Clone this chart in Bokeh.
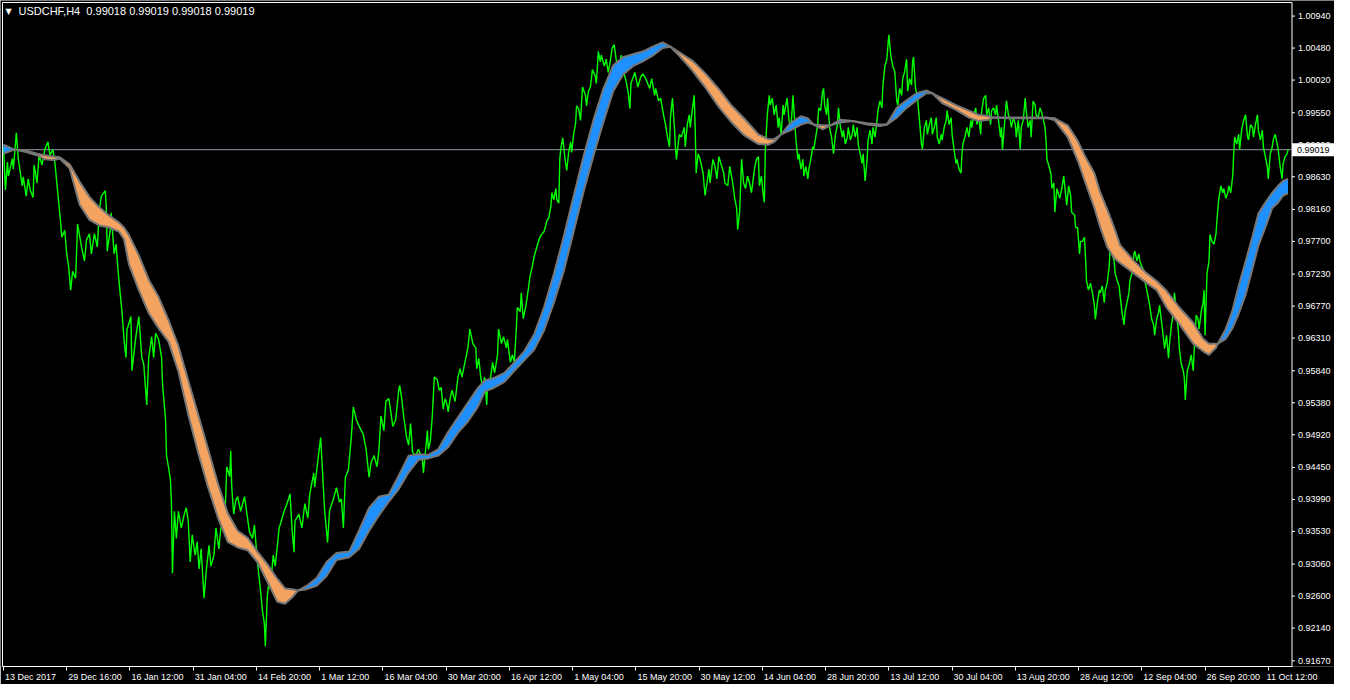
import numpy as np
from bokeh.plotting import figure
from bokeh.models import Range1d, FixedTicker, Label
from bokeh.embed import file_html
from bokeh.resources import INLINE

# ---------------- data ----------------
symbol = "USDCHF,H4"
ohlc_last = ["0.99018", "0.99019", "0.99018", "0.99019"]
last_price = 0.99019

bars_per_label = 64
date_labels = ["13 Dec 2017", "29 Dec 16:00", "16 Jan 12:00", "31 Jan 04:00", "14 Feb 20:00",
               "1 Mar 12:00", "16 Mar 04:00", "30 Mar 20:00", "16 Apr 12:00", "1 May 04:00",
               "15 May 20:00", "30 May 12:00", "14 Jun 04:00", "28 Jun 20:00", "13 Jul 12:00",
               "30 Jul 04:00", "13 Aug 20:00", "28 Aug 12:00", "12 Sep 04:00", "26 Sep 20:00",
               "11 Oct 12:00"]

price_ticks = [1.00940, 1.00480, 1.00020, 0.99550, 0.99090, 0.98630, 0.98160, 0.97700,
               0.97230, 0.96770, 0.96310, 0.95840, 0.95380, 0.94920, 0.94450, 0.93990,
               0.93530, 0.93060, 0.92600, 0.92140, 0.91670]

# (bar index, close)
close_series = [
    (0,0.9906),(2,0.9844),(4,0.9884),(5,0.9864),(9,0.9889),(10,0.9874),(13,0.9926),(15,0.9889),
    (19,0.9850),(20,0.9863),(23,0.9835),(25,0.9860),(27,0.9844),(30,0.9833),(31,0.9880),(34,0.9854),
    (36,0.9894),(39,0.9880),(42,0.9903),(45,0.9913),(47,0.9894),(50,0.9902),(52,0.9884),(54,0.9854),
    (56,0.9825),(58,0.9795),(59,0.9776),(62,0.9786),(64,0.9752),(66,0.9733),(68,0.9700),(70,0.9727),
    (73,0.9717),(75,0.9795),(79,0.9762),(82,0.9742),(84,0.9772),(87,0.9781),(89,0.9752),(92,0.9781),
    (95,0.9762),(97,0.9815),(99,0.9835),(103,0.9843),(104,0.9821),(105,0.9756),(108,0.9786),(109,0.9811),
    (112,0.9752),(114,0.9766),(116,0.9727),(118,0.9697),(120,0.9668),(122,0.9629),(124,0.9603),(125,0.9643),
    (129,0.9662),(130,0.9584),(134,0.9633),(137,0.9662),(140,0.9603),(142,0.9593),(145,0.9535),(147,0.9603),
    (150,0.9633),(152,0.9603),(154,0.9638),(157,0.9629),(160,0.9603),(161,0.9564),(164,0.9515),(165,0.9462),
    (167,0.9446),(169,0.9427),(170,0.9393),(171,0.9293),(173,0.9382),(175,0.9343),(177,0.9382),(180,0.9358),
    (183,0.9378),(185,0.9387),(187,0.9368),(189,0.9309),(191,0.9348),(194,0.9319),(196,0.9338),(198,0.9299),
    (200,0.9328),(203,0.9257),(205,0.9293),(208,0.9333),(210,0.9303),(213,0.9319),(215,0.9358),(218,0.9328),
    (220,0.9358),(224,0.9368),(226,0.9446),(229,0.9432),(230,0.9469),(231,0.9417),(233,0.9378),(235,0.9397),
    (237,0.9403),(240,0.9382),(244,0.9403),(246,0.9382),(249,0.9352),(252,0.9343),(254,0.9362),(257,0.9309),
    (260,0.9270),(262,0.9240),(264,0.9221),(265,0.9188),(267,0.9260),(269,0.9284),(270,0.9270),(273,0.9319),
    (275,0.9303),(279,0.9358),(282,0.9372),(284,0.9382),(287,0.9393),(290,0.9407),(292,0.9358),(294,0.9323),
    (295,0.9368),(299,0.9378),(302,0.9358),(305,0.9393),(308,0.9372),(310,0.9407),(314,0.9437),(315,0.9417),
    (319,0.9465),(321,0.9488),(324,0.9410),(325,0.9383),(328,0.9337),(330,0.9383),(334,0.9400),(337,0.9416),
    (340,0.9395),(342,0.9400),(344,0.9358),(346,0.9431),(349,0.9441),(352,0.9488),(354,0.9532),(357,0.9514),
    (360,0.9504),(364,0.9493),(367,0.9471),(370,0.9431),(372,0.9452),(375,0.9462),(378,0.9446),(380,0.9471),
    (382,0.9519),(385,0.9498),(387,0.9540),(390,0.9544),(392,0.9525),(394,0.9504),(397,0.9514),(400,0.9556),
    (401,0.9563),(403,0.9544),(405,0.9519),(408,0.9488),(410,0.9477),(412,0.9508),(414,0.9467),(417,0.9462),
    (420,0.9471),(424,0.9456),(425,0.9437),(429,0.9498),(430,0.9471),(432,0.9483),(434,0.9519),(436,0.9575),
    (439,0.9571),(441,0.9556),(443,0.9560),(445,0.9529),(447,0.9544),(449,0.9535),(450,0.9525),(452,0.9544),
    (454,0.9556),(457,0.9540),(460,0.9575),(462,0.9587),(464,0.9575),(467,0.9596),(470,0.9617),(472,0.9644),
    (475,0.9623),(478,0.9617),(479,0.9587),(481,0.9602),(483,0.9575),(485,0.9560),(487,0.9575),(489,0.9535),
    (490,0.9565),(493,0.9575),(495,0.9596),(497,0.9581),(500,0.9607),(501,0.9644),(504,0.9623),(506,0.9633),
    (509,0.9617),(510,0.9629),(513,0.9596),(515,0.9607),(517,0.9596),(519,0.9644),(520,0.9675),(523,0.9669),
    (524,0.9696),(526,0.9659),(529,0.9680),(531,0.9700),(533,0.9721),(535,0.9733),(537,0.9748),(540,0.9763),
    (542,0.9773),(544,0.9779),(547,0.9784),(549,0.9794),(550,0.9800),(552,0.9804),(554,0.9821),(555,0.9840),
    (557,0.9830),(559,0.9846),(560,0.9830),(562,0.9825),(563,0.9888),(564,0.9903),(566,0.9919),(568,0.9892),
    (570,0.9872),(572,0.9898),(574,0.9913),(575,0.9898),(577,0.9924),(579,0.9940),(580,0.9965),(582,0.9961),
    (584,0.9944),(586,0.9992),(589,0.9980),(590,0.9965),(592,0.9986),(594,0.9992),(596,1.0017),(599,1.0007),
    (600,0.9997),(602,1.0043),(604,1.0028),(605,1.0038),(608,1.0022),(610,1.0032),(612,1.0013),(614,1.0028),
    (616,1.0048),(618,1.0053),(620,1.0032),(622,1.0017),(624,1.0022),(625,1.0038),(627,1.0017),(630,1.0001),
    (632,0.9986),(634,0.9961),(635,0.9997),(639,1.0013),(642,0.9992),(645,1.0007),(647,1.0011),(650,1.0004),
    (654,0.9990),(656,1.0004),(659,0.9980),(660,0.9990),(663,0.9972),(665,0.9976),(668,0.9952),(670,0.9938),
    (672,0.9920),(674,0.9906),(675,0.9948),(677,0.9976),(679,0.9934),(680,0.9906),(681,0.9888),(684,0.9924),
    (686,0.9920),(689,0.9934),(690,0.9906),(692,0.9938),(694,0.9952),(695,0.9934),(697,0.9958),(699,0.9980),
    (700,0.9934),(701,0.9868),(703,0.9896),(705,0.9888),(708,0.9868),(710,0.9836),(712,0.9854),(714,0.9874),
    (715,0.9854),(718,0.9888),(720,0.9878),(722,0.9860),(724,0.9892),(726,0.9882),(729,0.9868),(730,0.9854),
    (733,0.9850),(735,0.9878),(738,0.9854),(740,0.9832),(742,0.9818),(743,0.9787),(745,0.9812),(747,0.9888),
    (749,0.9854),(751,0.9846),(753,0.9864),(755,0.9854),(757,0.9840),(760,0.9874),(762,0.9888),(764,0.9892),
    (765,0.9850),(767,0.9864),(769,0.9836),(770,0.9826),(771,0.9902),(773,0.9952),(775,0.9980),(776,0.9966),
    (778,0.9976),(780,0.9952),(782,0.9966),(784,0.9934),(785,0.9948),(787,0.9924),(789,0.9966),(790,0.9952),
    (793,0.9976),(795,0.9944),(797,0.9934),(799,0.9980),(800,0.9958),(802,0.9916),(804,0.9888),(805,0.9896),
    (807,0.9874),(809,0.9888),(810,0.9864),(812,0.9878),(814,0.9860),(815,0.9874),(817,0.9888),(819,0.9906),
    (820,0.9902),(822,0.9920),(824,0.9938),(825,0.9962),(827,0.9958),(829,0.9986),(830,0.9990),(831,0.9966),
    (833,0.9952),(834,0.9976),(836,0.9934),(838,0.9920),(840,0.9896),(842,0.9924),(844,0.9938),(845,0.9962),
    (847,0.9934),(849,0.9920),(850,0.9930),(852,0.9910),(854,0.9920),(855,0.9934),(857,0.9916),(859,0.9924),
    (860,0.9938),(862,0.9920),(864,0.9934),(865,0.9910),(867,0.9896),(869,0.9882),(870,0.9896),(872,0.9857),
    (874,0.9888),(875,0.9916),(877,0.9930),(879,0.9910),(880,0.9934),(882,0.9920),(884,0.9944),(885,0.9958),
    (887,0.9972),(889,0.9962),(890,0.9995),(892,1.0022),(894,1.0032),(895,1.0050),(896,1.0067),(898,1.0037),
    (900,1.0022),(902,1.0014),(904,0.9972),(905,0.9966),(907,0.9990),(909,0.9980),(910,1.0004),(912,1.0014),
    (914,1.0032),(915,0.9986),(917,1.0004),(919,0.9995),(920,1.0028),(921,1.0035),(923,0.9990),(925,0.9976),
    (927,0.9944),(929,0.9910),(930,0.9903),(932,0.9934),(934,0.9944),(935,0.9924),(937,0.9938),(939,0.9948),
    (940,0.9924),(942,0.9934),(944,0.9948),(945,0.9920),(947,0.9910),(949,0.9924),(950,0.9916),(952,0.9934),
    (954,0.9944),(955,0.9958),(957,0.9938),(959,0.9948),(960,0.9924),(962,0.9902),(964,0.9882),(965,0.9888),
    (967,0.9874),(969,0.9868),(970,0.9896),(971,0.9910),(973,0.9920),(975,0.9934),(977,0.9920),(979,0.9944),
    (980,0.9934),(982,0.9952),(984,0.9962),(985,0.9938),(987,0.9948),(989,0.9924),(990,0.9958),(992,0.9976),
    (994,0.9980),(995,0.9952),(997,0.9962),(999,0.9938),(1000,0.9958),(1002,0.9962),(1004,0.9952),(1005,0.9966),
    (1007,0.9944),(1009,0.9920),(1010,0.9934),(1011,0.9902),(1013,0.9938),(1015,0.9972),(1017,0.9952),(1019,0.9944),
    (1020,0.9934),(1022,0.9948),(1024,0.9938),(1025,0.9920),(1027,0.9944),(1029,0.9903),(1030,0.9934),(1032,0.9944),
    (1034,0.9976),(1035,0.9958),(1037,0.9934),(1039,0.9944),(1040,0.9920),(1042,0.9972),(1044,0.9966),(1045,0.9952),
    (1047,0.9948),(1049,0.9962),(1050,0.9958),(1052,0.9948),(1054,0.9934),(1055,0.9916),(1056,0.9888),(1058,0.9878),
    (1060,0.9868),(1061,0.9846),(1063,0.9854),(1064,0.9812),(1066,0.9846),(1069,0.9832),(1071,0.9846),(1073,0.9864),
    (1074,0.9850),(1076,0.9822),(1078,0.9850),(1080,0.9836),(1081,0.9812),(1084,0.9808),(1085,0.9790),(1087,0.9790),
    (1089,0.9752),(1090,0.9770),(1092,0.9770),(1094,0.9776),(1095,0.9748),(1096,0.9714),(1098,0.9700),(1100,0.9710),
    (1102,0.9696),(1104,0.9678),(1105,0.9658),(1107,0.9682),(1109,0.9700),(1110,0.9696),(1112,0.9706),(1114,0.9682),
    (1115,0.9700),(1117,0.9710),(1119,0.9734),(1120,0.9762),(1122,0.9752),(1124,0.9742),(1125,0.9724),(1127,0.9714),
    (1129,0.9706),(1130,0.9692),(1132,0.9668),(1134,0.9650),(1135,0.9668),(1137,0.9682),(1139,0.9696),(1140,0.9714),
    (1142,0.9724),(1144,0.9752),(1145,0.9756),(1147,0.9742),(1149,0.9752),(1150,0.9742),(1152,0.9734),(1154,0.9728),
    (1155,0.9714),(1157,0.9700),(1159,0.9686),(1160,0.9678),(1162,0.9658),(1164,0.9650),(1165,0.9635),(1167,0.9658),
    (1169,0.9668),(1170,0.9678),(1172,0.9654),(1174,0.9630),(1175,0.9616),(1177,0.9635),(1179,0.9602),(1180,0.9622),
    (1182,0.9650),(1184,0.9668),(1185,0.9696),(1187,0.9668),(1189,0.9640),(1190,0.9616),(1192,0.9593),(1194,0.9584),
    (1195,0.9574),(1196,0.9542),(1198,0.9584),(1200,0.9593),(1202,0.9607),(1204,0.9584),(1205,0.9612),(1207,0.9664),
    (1209,0.9658),(1210,0.9644),(1212,0.9668),(1214,0.9682),(1215,0.9700),(1216,0.9635),(1218,0.9724),(1220,0.9742),
    (1221,0.9780),(1223,0.9770),(1225,0.9766),(1227,0.9780),(1229,0.9818),(1230,0.9832),(1232,0.9850),(1234,0.9840),
    (1235,0.9846),(1237,0.9832),(1239,0.9840),(1240,0.9850),(1242,0.9840),(1244,0.9864),(1245,0.9896),(1246,0.9920),
    (1248,0.9910),(1250,0.9924),(1251,0.9902),(1253,0.9930),(1255,0.9944),(1257,0.9952),(1259,0.9920),(1260,0.9916),
    (1262,0.9938),(1264,0.9934),(1265,0.9920),(1267,0.9938),(1269,0.9952),(1270,0.9930),(1272,0.9916),(1274,0.9930),
    (1275,0.9906),(1277,0.9892),(1279,0.9878),(1280,0.9860),(1282,0.9896),(1284,0.9906),(1285,0.9916),(1287,0.9924),
    (1289,0.9910),(1290,0.9902),(1292,0.9878),(1294,0.9860),(1295,0.9882),(1297,0.9892),(1299,0.9896),(1300,0.99019),
]

# (bar index, fast line, slow line) of the smoothed band
band_series = [
    (0,0.9909,0.9896),(5,0.9906,0.9899),(11,0.9902,0.9902),(22,0.9899,0.9901),(34,0.9894,0.9896),
    (42,0.9888,0.9894),(50,0.9887,0.9892),(57,0.9889,0.9891),(67,0.9875,0.9881),(77,0.9823,0.9856),
    (87,0.9801,0.9834),(97,0.9793,0.9819),(107,0.9790,0.9807),(117,0.9784,0.9797),(122,0.9773,0.9790),
    (127,0.9737,0.9779),(137,0.9700,0.9750),(147,0.9667,0.9715),(157,0.9645,0.9690),(167,0.9626,0.9657),
    (177,0.9583,0.9620),(187,0.9521,0.9570),(197,0.9466,0.9521),(207,0.9417,0.9472),(217,0.9373,0.9422),
    (227,0.9338,0.9379),(237,0.9330,0.9354),(247,0.9326,0.9344),(257,0.9309,0.9324),(267,0.9281,0.9306),
    (277,0.9252,0.9285),(285,0.9249,0.9271),(292,0.9258,0.9270),(298,0.9268,0.9268),(307,0.9275,0.9270),
    (317,0.9286,0.9275),(327,0.9309,0.9289),(337,0.9322,0.9312),(350,0.9324,0.9316),(360,0.9355,0.9328),
    (370,0.9387,0.9354),(380,0.9403,0.9376),(390,0.9406,0.9396),(400,0.9433,0.9414),(410,0.9462,0.9438),
    (420,0.9464,0.9456),(430,0.9463,0.9458),(440,0.9471,0.9462),(450,0.9496,0.9474),(460,0.9517,0.9495),
    (470,0.9538,0.9511),(480,0.9559,0.9532),(487,0.9570,0.9554),(497,0.9574,0.9560),(507,0.9581,0.9568),
    (517,0.9596,0.9584),(527,0.9612,0.9599),(537,0.9636,0.9614),(547,0.9675,0.9642),(557,0.9723,0.9682),
    (567,0.9777,0.9727),(577,0.9835,0.9784),(587,0.9892,0.9841),(597,0.9944,0.9893),(607,0.9989,0.9941),
    (617,1.0023,0.9986),(627,1.0035,1.0010),(637,1.0039,1.0022),(647,1.0043,1.0029),(657,1.0050,1.0037),
    (667,1.0056,1.0048),(675,1.0050,1.0050),(684,1.0037,1.0042),(697,1.0016,1.0030),(710,0.9992,1.0012),
    (724,0.9963,0.9989),(737,0.9941,0.9965),(750,0.9922,0.9946),(764,0.9910,0.9924),(774,0.9909,0.9917),
    (780,0.9913,0.9917),(787,0.9924,0.9924),(797,0.9941,0.9930),(807,0.9950,0.9938),(814,0.9947,0.9941),
    (820,0.9938,0.9938),(829,0.9931,0.9937),(837,0.9937,0.9937),(847,0.9945,0.9941),(859,0.9943,0.9943),
    (874,0.9938,0.9940),(887,0.9936,0.9938),(894,0.9938,0.9938),(904,0.9962,0.9948),(914,0.9973,0.9962),
    (924,0.9983,0.9973),(934,0.9987,0.9983),(940,0.9983,0.9983),(950,0.9969,0.9976),(964,0.9959,0.9966),
    (977,0.9948,0.9958),(987,0.9943,0.9952),(997,0.9945,0.9950),(1002,0.9948,0.9948),(1017,0.9947,0.9948),
    (1037,0.9947,0.9948),(1057,0.9947,0.9948),(1064,0.9944,0.9947),(1077,0.9920,0.9937),(1087,0.9887,0.9915),
    (1094,0.9858,0.9894),(1104,0.9818,0.9868),(1110,0.9790,0.9840),(1117,0.9762,0.9816),(1124,0.9746,0.9790),
    (1130,0.9739,0.9765),(1144,0.9724,0.9742),(1157,0.9710,0.9724),(1167,0.9700,0.9713),(1177,0.9675,0.9699),
    (1190,0.9651,0.9675),(1204,0.9623,0.9653),(1214,0.9612,0.9630),(1220,0.9607,0.9623),(1227,0.9617,0.9623),
    (1229,0.9623,0.9623),(1237,0.9644,0.9630),(1244,0.9672,0.9646),(1250,0.9706,0.9666),(1257,0.9741,0.9693),
    (1264,0.9777,0.9731),(1270,0.9810,0.9764),(1277,0.9826,0.9790),(1284,0.9840,0.9818),(1290,0.9850,0.9826),
    (1295,0.9857,0.9836),(1300,0.9860,0.9839),
]

# ---------------- derived arrays ----------------
cb = np.array([b for b, _ in close_series], dtype=float)
cv = np.array([v for _, v in close_series])
bb = np.array([b for b, _, _ in band_series], dtype=float)
fast = np.array([f for _, f, _ in band_series])
slow = np.array([s for _, _, s in band_series])
tick_bars = [i * bars_per_label for i in range(len(date_labels))]

# ---------------- styling / geometry ----------------
BG, FG = "black", "white"
GREEN, BLUE, ORANGE = "#00ff00", "#1e90ff", "#f4a460"
EDGE, BIDLINE = "#767676", "#8a97a6"
FONT = "Liberation Sans"
FS = 9  # px, scale labels

W, H = 1334, 684
BOTTOM = 16                      # px reserved for the time scale
AXIS_BAR = 1304                  # price scale sits just right of the last bars
x_range = Range1d(-3, 1347)      # right part of the frame holds the price scale
y_range = Range1d(0.91588, 1.01164)
ppb = W / (x_range.end - x_range.start)            # pixels per bar
ppu = (H - BOTTOM) / (y_range.end - y_range.start)  # pixels per price unit
top_line = y_range.end - 2 / ppu
left_line = x_range.start + 2 / ppb

# Liberation Sans advance widths (per 1000 em) for placing the time labels
ADV = {**{d: 556 for d in "0123456789"}, " ": 278, ":": 278, ".": 278,
       "D": 722, "e": 556, "c": 500, "J": 500, "a": 556, "n": 556, "F": 611, "b": 556,
       "M": 833, "r": 333, "A": 667, "p": 556, "y": 500, "u": 556, "l": 222, "g": 556,
       "S": 667, "O": 778, "t": 278}


def text_px(s):
    return sum(ADV.get(ch, 556) for ch in s) * FS / 1000.0


label_pos = [min(b + (text_px(t) / 2 + 1.5) / ppb, AXIS_BAR) for b, t in zip(tick_bars, date_labels)]

p = figure(width=W, height=H, output_backend="svg", toolbar_location=None,
           x_range=x_range, y_range=y_range, y_axis_location=None, x_axis_location="below",
           min_border_left=0, min_border_top=0, min_border_right=0, min_border_bottom=BOTTOM)
p.background_fill_color = BG
p.border_fill_color = BG
p.outline_line_color = None
p.xgrid.visible = False
p.ygrid.visible = False

# time scale: labels start at their tick (tick marks drawn as minor ticks)
xax = p.xaxis[0]
xax.bounds = (left_line, AXIS_BAR)
xax.ticker = FixedTicker(ticks=label_pos, minor_ticks=tick_bars)
xax.major_label_overrides = {pos: t for pos, t in zip(label_pos, date_labels)}
xax.axis_line_color = FG
xax.axis_line_width = 1
xax.major_tick_line_color = None
xax.major_tick_out = 0
xax.major_tick_in = 0
xax.minor_tick_line_color = FG
xax.minor_tick_out = 4
xax.minor_tick_in = 0
xax.major_label_text_color = FG
xax.major_label_text_font = FONT
xax.major_label_text_font_size = "%dpx" % FS
xax.major_label_standoff = 1

# frame lines (left, top, price-scale line)
p.segment(x0=[left_line, left_line, AXIS_BAR], x1=[left_line, AXIS_BAR, AXIS_BAR],
          y0=[y_range.start, top_line, y_range.start], y1=[top_line, top_line, top_line],
          line_color=FG, line_width=1)

# bid line
p.segment(x0=[left_line], x1=[AXIS_BAR], y0=[last_price], y1=[last_price],
          line_color=BIDLINE, line_width=1)

# price
p.line(cb, cv, line_color=GREEN, line_width=1.4)

# band: blue where fast above slow, orange where below
p.varea(x=bb, y1=slow, y2=np.maximum(fast, slow), fill_color=BLUE)
p.varea(x=bb, y1=slow, y2=np.minimum(fast, slow), fill_color=ORANGE)
p.line(bb, fast, line_color=EDGE, line_width=2)
p.line(bb, slow, line_color=EDGE, line_width=2)

# price scale ticks and labels
p.segment(x0=[AXIS_BAR] * len(price_ticks), x1=[AXIS_BAR + 3 / ppb] * len(price_ticks),
          y0=price_ticks, y1=price_ticks, line_color=FG, line_width=1)
p.text(x=[AXIS_BAR] * len(price_ticks), y=price_ticks, text=["%.5f" % t for t in price_ticks],
       x_offset=6, text_align="left", text_baseline="middle", text_color=FG,
       text_font={"value": FONT}, text_font_size={"value": "%dpx" % FS})

# current price box
p.rect(x=[AXIS_BAR + 21 / ppb], y=[last_price], width=42, height=13,
       width_units="screen", height_units="screen", fill_color="white", line_color=None)
p.text(x=[AXIS_BAR], y=[last_price], text=["%.5f" % last_price], x_offset=5,
       text_align="left", text_baseline="middle", text_color="black",
       text_font={"value": FONT}, text_font_size={"value": "%dpx" % FS})

# header
p.add_layout(Label(x=5, y=y_range.end, x_units="screen", y_units="data", text="\u25bc",
                   text_color=FG, text_font="DejaVu Sans", text_font_size="8px",
                   text_baseline="top", y_offset=-6))
header = symbol + "\u00a0\u00a0" + " ".join(ohlc_last)
p.add_layout(Label(x=18, y=y_range.end, x_units="screen", y_units="data", text=header,
                   text_color=FG, text_font=FONT, text_font_size="11px",
                   text_baseline="top", y_offset=-4))

open("out.html", "w").write(file_html(p, INLINE))
